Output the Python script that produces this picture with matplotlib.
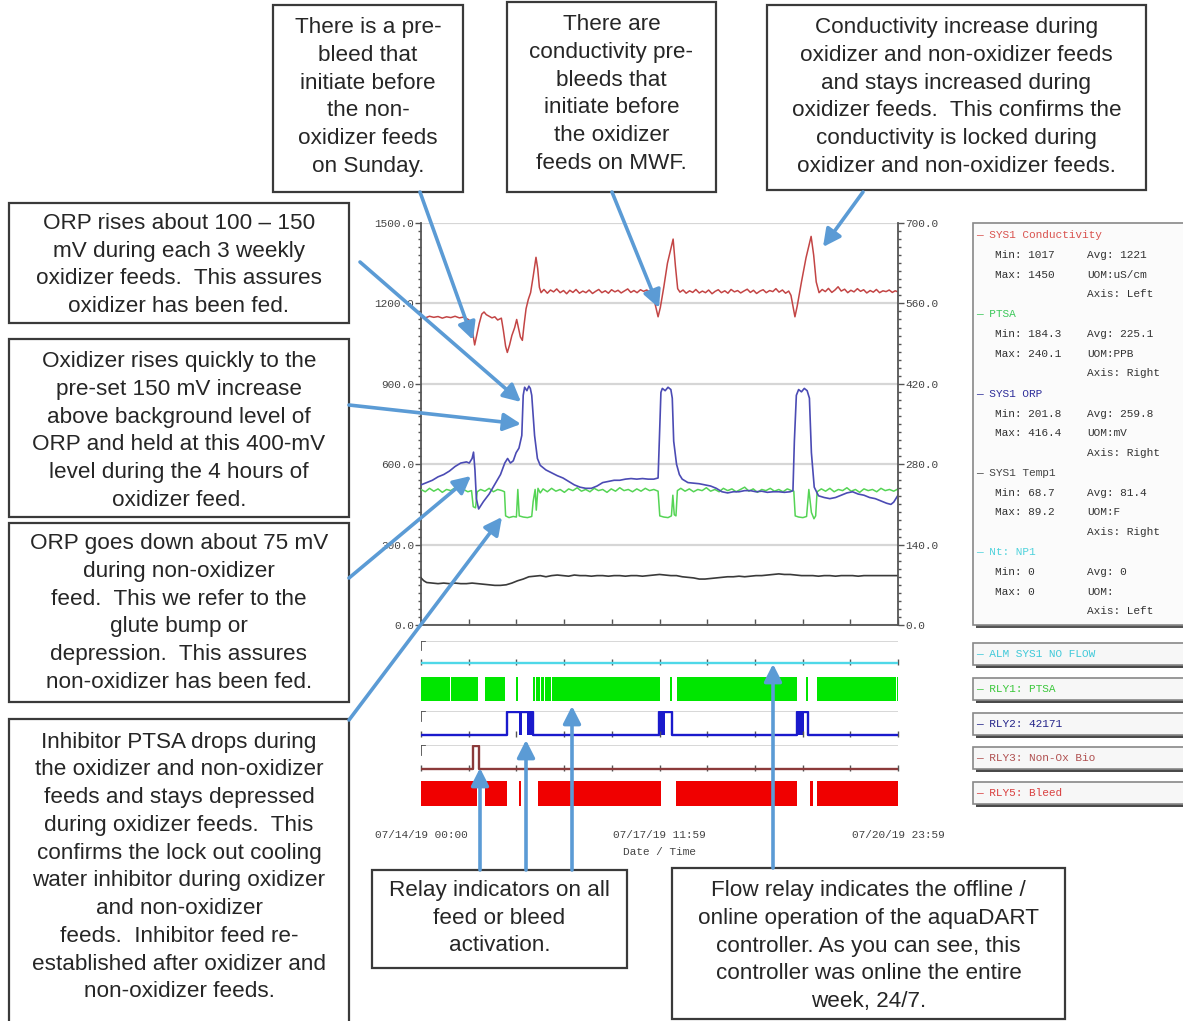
import numpy as np
import matplotlib
matplotlib.use("Agg")
import matplotlib.pyplot as plt
from matplotlib.patches import Rectangle
from matplotlib.ticker import MultipleLocator

plt.rcParams['font.family'] = ['Liberation Mono', 'DejaVu Sans Mono']

W, H = 1183, 1021
SPAN = 168.0  # hours from 07/14/19 00:00 to 07/20/19 23:59

# SYS1 Conductivity, left axis (uS/cm)
COND_H = [0, 1.5, 3, 4.5, 6, 7.5, 9, 10.5, 12, 13.5, 15, 16.5, 17.6, 18.9, 19.6, 20.5, 21.4, 22.2,
          23, 24, 25, 26, 27, 28.3, 29, 29.8, 30.4, 31.2, 32, 33, 33.7, 34.3, 35, 35.7, 36.3, 37,
          37.8, 38.6, 39.5, 40.5, 41.1, 41.7, 42.3, 43.3, 44.5, 45.6, 46.7, 47.8, 49, 50.2, 51.3,
          52.4, 53.5, 54.6, 55.8, 57, 58.1, 59.2, 60.4, 61.5, 62.6, 63.7, 64.9, 66, 67.1, 68.3,
          69.4, 70.5, 71.6, 72.8, 73.9, 75, 76.1, 77.3, 78.4, 79.5, 80.6, 81.5, 82.4, 83.5, 84.3,
          85.5, 86.8, 88.8, 89.6, 90.4, 91.2, 92.3, 93.4, 94.6, 95.7, 96.8, 98, 99.1, 100.2, 101.3,
          102.5, 103.6, 104.7, 105.8, 107, 108.1, 109.2, 110.4, 111.5, 112.6, 113.7, 114.9, 116,
          117.1, 118.2, 119.4, 120.5, 121.6, 122.8, 123.9, 125, 126.1, 127.3, 128.4, 129.5, 130.3,
          131, 131.7, 132.5, 134, 135.6, 137.4, 138.3, 139.2, 140.2, 141.3, 142.4, 143.5, 144.7,
          145.8, 146.9, 148, 149.2, 150.3, 151.4, 152.5, 153.7, 154.8, 155.9, 157, 158.2, 159.3,
          160.4, 161.5, 162.7, 163.8, 164.9, 166, 167, 168]
COND_V = [1150, 1146, 1152, 1148, 1151, 1145, 1150, 1147, 1152, 1146, 1149, 1141, 1132, 1045, 1080,
          1125, 1160, 1168, 1158, 1152, 1146, 1150, 1138, 1145, 1100, 1040, 1017, 1045, 1080, 1110,
          1140, 1110, 1075, 1062, 1120, 1180, 1215, 1240, 1300, 1372, 1330, 1260, 1240, 1252, 1238,
          1250, 1243, 1254, 1240, 1248, 1236, 1249, 1241, 1252, 1238, 1246, 1240, 1250, 1237, 1245,
          1252, 1240, 1247, 1238, 1251, 1243, 1249, 1239, 1246, 1254, 1241, 1248, 1240, 1251, 1245,
          1250, 1242, 1236, 1200, 1150, 1185, 1260, 1350, 1440, 1340, 1255, 1242, 1250, 1238, 1247,
          1241, 1252, 1239, 1246, 1240, 1250, 1236, 1245, 1251, 1240, 1247, 1238, 1252, 1243, 1248,
          1239, 1246, 1253, 1241, 1249, 1237, 1246, 1251, 1240, 1248, 1244, 1255, 1242, 1250, 1238,
          1246, 1230, 1190, 1150, 1190, 1280, 1370, 1450, 1380, 1280, 1240, 1252, 1244, 1256, 1241,
          1250, 1262, 1246, 1253, 1240, 1249, 1243, 1255, 1245, 1251, 1239, 1248, 1242, 1252, 1240,
          1247, 1244, 1250, 1241, 1247, 1243]

# SYS1 ORP, right axis (mV)
ORP_H = [0, 2, 4, 6, 8, 10, 12, 14, 16, 17, 18, 18.5, 19, 19.5, 20.3, 22, 24, 26, 28, 29.5, 30.5,
         31.5, 32.5, 33.5, 34.5, 35.5, 36, 36.5, 37.3, 38, 38.5, 39, 40, 41, 42, 44, 46, 48, 50, 52,
         54, 56, 58, 60, 62, 64, 66, 68, 70, 72, 74, 76, 78, 80, 82, 83.5, 84, 84.5, 85, 86, 87, 88,
         88.5, 89, 90, 91, 92, 94, 96, 98, 100, 102, 104, 106, 108, 110, 112, 114, 116, 118, 120,
         122, 124, 126, 128, 130, 131, 131.5, 132.2, 133, 134, 135, 136, 136.8, 137.5, 138.5, 140,
         142, 144, 146, 148, 150, 152, 154, 156, 158, 160, 162, 164, 165.5, 166.5, 168]
ORP_V = [244, 248, 252, 258, 262, 268, 276, 282, 284, 282, 290, 301, 270, 220, 202, 215, 228, 245,
         262, 282, 290, 282, 286, 300, 308, 330, 400, 414, 408, 416, 412, 400, 330, 290, 278, 270,
         265, 260, 256, 250, 244, 240, 238, 238, 242, 248, 250, 252, 252, 254, 255, 254, 255, 254,
         254, 256, 330, 405, 412, 408, 414, 410, 395, 320, 280, 262, 254, 248, 247, 246, 244, 242,
         238, 232, 230, 232, 232, 234, 234, 232, 233, 231, 232, 232, 231, 232, 234, 320, 400, 410,
         406, 412, 408, 395, 300, 240, 225, 222, 220, 222, 226, 230, 232, 228, 226, 222, 220, 216,
         212, 210, 214, 226]

# PTSA, right axis (ppb)
PTSA_H = [0, 1.5, 3, 4.5, 6, 7.5, 9, 10.5, 12, 13.5, 15, 16.5, 17.8, 18.4, 19.2, 19.8, 21, 22.5, 24,
          25.5, 27, 28.5, 29.4, 29.8, 31, 32.5, 33.6, 34.1, 34.6, 36, 37.5, 39, 39.5, 40.2, 40.6,
          41.2, 42, 43, 44.5, 46, 47.5, 49, 50.5, 52, 53.5, 55, 56.5, 58, 59.5, 61, 62.5, 64, 65.5,
          67, 68.5, 70, 71.5, 73, 74.5, 76, 77.5, 79, 80.5, 82, 83.5, 84.1, 85.5, 87, 88.2, 88.7,
          89.2, 89.8, 90.3, 91.5, 93, 94.5, 96, 97.5, 99, 100.5, 102, 103.5, 105, 106.5, 108, 109.5,
          111, 112.5, 114, 115.5, 117, 118.5, 120, 121.5, 123, 124.5, 126, 127.5, 129, 130.5, 131.3,
          131.8, 133, 134.5, 135.8, 136.6, 137.5, 138.4, 139, 139.5, 141, 142.5, 144, 145.5, 147,
          148.5, 150, 151.5, 153, 154.5, 156, 157.5, 159, 160.5, 162, 163.5, 165, 166.5, 168]
PTSA_V = [236, 232, 238, 233, 237, 231, 236, 234, 239, 233, 236, 232, 234, 206, 204, 232, 236, 233,
          238, 232, 236, 234, 232, 190, 187, 189, 188, 236, 190, 188, 187, 189, 215, 236, 200, 238,
          230, 237, 232, 238, 233, 236, 231, 237, 234, 239, 233, 236, 232, 238, 234, 236, 231, 237,
          233, 239, 234, 236, 232, 237, 233, 238, 234, 236, 233, 190, 188, 187, 190, 226, 192, 190,
          234, 238, 233, 237, 232, 236, 234, 239, 233, 236, 232, 238, 234, 237, 232, 236, 240, 233,
          237, 231, 236, 234, 238, 233, 236, 232, 237, 234, 233, 190, 188, 187, 189, 236, 196, 185,
          190, 232, 237, 233, 238, 232, 236, 234, 239, 233, 236, 231, 237, 234, 236, 232, 238, 234,
          236, 233, 237]

# SYS1 Temp1, right axis (F)
TEMP_H = [0, 1, 2, 4, 6, 8, 10, 12, 14, 16, 18, 20, 22, 24, 26, 28, 30, 32, 34, 36, 38, 40, 42, 44,
          46, 48, 50, 52, 54, 56, 58, 60, 62, 64, 66, 68, 70, 72, 74, 76, 78, 80, 82, 84, 86, 88, 90,
          92, 94, 96, 98, 100, 102, 104, 106, 108, 110, 112, 114, 116, 118, 120, 122, 124, 126, 128,
          130, 132, 134, 136, 138, 140, 142, 144, 146, 148, 150, 152, 154, 156, 158, 160, 162, 164,
          166, 168]
TEMP_V = [82, 77, 74, 73, 72, 73, 72, 73, 72, 72, 73, 72, 71, 70, 69, 69, 70, 73, 77, 80, 84, 85, 86,
          84, 86, 87, 86, 85, 87, 86, 86, 85, 86, 86, 85, 86, 86, 85, 86, 86, 85, 86, 87, 88, 87, 86,
          86, 84, 83, 82, 80, 80, 81, 82, 83, 84, 84, 85, 84, 85, 86, 86, 87, 88, 89, 88, 88, 87, 86,
          86, 86, 85, 86, 86, 85, 86, 86, 86, 85, 86, 86, 86, 86, 86, 86, 86]

# relay states as (on, off) hour pairs
ALM_ON = []
RLY1_OFF = [(10.1, 10.4), (20.1, 22.5), (29.6, 33.6), (34.2, 39.4), (40.2, 40.5), (41.8, 42.1),
            (43.4, 43.7), (45.7, 46.0), (75.9, 76.2), (84.2, 87.7), (88.3, 90.1), (132.4, 135.6),
            (136.3, 139.5), (167.2, 167.5)]
RLY2_ON = [(30.3, 39.4), (83.8, 88.4), (132.4, 136.3)]
RLY2_DENSE = [(34.5, 35.6), (37.3, 39.4), (83.8, 85.9), (132.4, 134.9)]
RLY3_ON = [(18.3, 20.3)]
RLY5_OFF = [(19.7, 22.5), (30.3, 34.6), (35.2, 41.2), (84.5, 89.8), (132.4, 137.0), (138.1, 139.5)]

DATE_LABELS = ['07/14/19 00:00', '07/17/19 11:59', '07/20/19 23:59']
COND_TICKS = [0, 300, 600, 900, 1200, 1500]
RIGHT_TICKS = [0, 140, 280, 420, 560, 700]

LEG_NAMES = ['SYS1 Conductivity', 'PTSA', 'SYS1 ORP', 'SYS1 Temp1', 'Nt: NP1']
LEG_MIN = ['1017', '184.3', '201.8', '68.7', '0']
LEG_MAX = ['1450', '240.1', '416.4', '89.2', '0']
LEG_AVG = ['1221', '225.1', '259.8', '81.4', '0']
LEG_UOM = ['uS/cm', 'PPB', 'mV', 'F', '']
LEG_AXIS = ['Left', 'Right', 'Right', 'Right', 'Left']
LEG_COLORS = ['#d9534f', '#3cc85a', '#2e2e9a', '#444444', '#4fd2dc']

RELAY_NAMES = ['ALM SYS1 NO FLOW', 'RLY1: PTSA', 'RLY2: 42171', 'RLY3: Non-Ox Bio', 'RLY5: Bleed']
RELAY_TEXT_COLORS = ['#3fc9d9', '#3cc83c', '#25258a', '#b05050', '#d94040']

C_COND = '#c34545'
C_PTSA = '#55d455'
C_ORP = '#4b4bb4'
C_TEMP = '#3a3a3a'
ARROW = '#5b9bd5'
TICKC = '#555555'


def px_rect(l, t, r, b):
    return [l / W, 1 - b / H, (r - l) / W, (b - t) / H]


def complement(gaps, lo, hi):
    out, cur = [], lo
    for s, e in gaps:
        out.append((cur, s))
        cur = e
    out.append((cur, hi))
    return out


def step_trace(intervals):
    xs, ys = [0.0], [0.0]
    for s, e in intervals:
        xs += [s, s, e, e]
        ys += [0, 1, 1, 0]
    xs.append(SPAN)
    ys.append(0)
    return xs, ys


fig = plt.figure(figsize=(W / 100, H / 100), dpi=100)
fig.patch.set_facecolor('white')

# ---- trend chart ----
ax = fig.add_axes(px_rect(421, 223, 898, 625))
ax.set_xlim(0, SPAN)
ax.set_ylim(0, 1500)
ax.set_yticks(COND_TICKS, [f'{v:.1f}' for v in COND_TICKS])
ax.yaxis.set_minor_locator(MultipleLocator(30))
ax.set_xticks(np.linspace(0, SPAN, 11))
ax.tick_params(axis='x', direction='in', length=4, width=1, color=TICKC, labelbottom=False)
ax.tick_params(axis='y', which='major', direction='out', length=4, width=1, color=TICKC,
               labelsize=8, labelcolor='#444', pad=1)
ax.tick_params(axis='y', which='minor', direction='out', length=2.5, width=1, color=TICKC)
ax.yaxis.grid(True, color='#d6d6d6', lw=1.6)
ax.set_axisbelow(True)
for side in ('left', 'bottom'):
    ax.spines[side].set_color(TICKC)
    ax.spines[side].set_linewidth(1.3)
ax.spines['top'].set_visible(False)
ax.spines['right'].set_visible(False)
ax.plot(COND_H, COND_V, color=C_COND, lw=1.1, zorder=3)

ax2 = ax.twinx()
ax2.set_ylim(0, 700)
ax2.set_yticks(RIGHT_TICKS, [f'{v:.1f}' for v in RIGHT_TICKS])
ax2.yaxis.set_minor_locator(MultipleLocator(14))
ax2.tick_params(axis='y', which='major', direction='out', length=4, width=1, color=TICKC,
                labelsize=8, labelcolor='#444', pad=1)
ax2.tick_params(axis='y', which='minor', direction='out', length=2.5, width=1, color=TICKC)
ax2.spines['right'].set_color(TICKC)
ax2.spines['right'].set_linewidth(1.3)
for side in ('top', 'left', 'bottom'):
    ax2.spines[side].set_visible(False)
ax2.plot(TEMP_H, TEMP_V, color=C_TEMP, lw=1.2)
ax2.plot(PTSA_H, PTSA_V, color=C_PTSA, lw=1.1)
ax2.plot(ORP_H, ORP_V, color=C_ORP, lw=1.2)

# ---- relay strips ----
strips = [
    (641, 665, 'line', '#4fd8e8', ALM_ON, []),
    (677, 701, 'fill', '#00e600', complement(RLY1_OFF, 0, SPAN), []),
    (711, 737, 'line', '#1a1acc', RLY2_ON, RLY2_DENSE),
    (745, 771, 'line', '#8b3a3a', RLY3_ON, []),
    (781, 806, 'fill', '#f00000', complement(RLY5_OFF, 0, SPAN), []),
]
strip_axes = []
for top, bot, kind, col, on, dense in strips:
    sa = fig.add_axes(px_rect(421, top, 898, bot))
    sa.set_xlim(0, SPAN)
    for sp in sa.spines.values():
        sp.set_visible(False)
    sa.set_yticks([])
    sa.set_xticks(np.linspace(0, SPAN, 11))
    if kind == 'fill':
        sa.set_ylim(0, 1)
        sa.broken_barh([(s, e - s) for s, e in on], (0, 1), facecolor=col, edgecolor='none')
        sa.tick_params(axis='x', length=0, labelbottom=False)
    else:
        sa.set_ylim(-0.1, 1.05)
        sa.plot([0, 1], [1, 1], transform=sa.transAxes, color='#d4d4d4', lw=1.3)
        sa.plot([0.008, 0, 0], [1, 1, 0.62], transform=sa.transAxes, color=TICKC, lw=1.3)
        sa.tick_params(axis='x', direction='in', length=4, width=1, color=TICKC, labelbottom=False)
        if dense:
            sa.broken_barh([(s, e - s) for s, e in dense], (0, 1), facecolor=col, edgecolor='none')
        xs, ys = step_trace(on)
        sa.plot(xs, ys, color=col, lw=1.7)
    strip_axes.append(sa)

bottom = strip_axes[-1]
bottom.set_xticks([0, SPAN / 2, SPAN], DATE_LABELS)
bottom.tick_params(axis='x', length=0, labelbottom=True, labelsize=8, labelcolor='#444', pad=17)
bottom.set_xlabel('Date / Time', fontsize=8, color='#444', labelpad=5)

# ---- overlay: legend panels, note boxes, arrows ----
ov = fig.add_axes([0, 0, 1, 1], zorder=10)
ov.set_xlim(0, W)
ov.set_ylim(H, 0)
ov.axis('off')
ov.patch.set_alpha(0)

ov.add_patch(Rectangle((976, 226), 220, 402, facecolor='#555555', edgecolor='none'))
ov.add_patch(Rectangle((973, 223), 220, 402, facecolor='#fbfbfb', edgecolor='#888888', lw=1.2))
for i, name in enumerate(LEG_NAMES):
    y0 = 235 + i * 79.3
    ov.text(976, y0, '\u2014 ' + name, color=LEG_COLORS[i], fontsize=8, va='center')
    ov.text(995, y0 + 20, f'Min: {LEG_MIN[i]}', color='#333', fontsize=8, va='center')
    ov.text(995, y0 + 39.5, f'Max: {LEG_MAX[i]}', color='#333', fontsize=8, va='center')
    ov.text(1087, y0 + 20, f'Avg: {LEG_AVG[i]}', color='#333', fontsize=8, va='center')
    ov.text(1087, y0 + 39.5, f'UOM:{LEG_UOM[i]}', color='#333', fontsize=8, va='center')
    ov.text(1087, y0 + 59, f'Axis: {LEG_AXIS[i]}', color='#333', fontsize=8, va='center')

for i, name in enumerate(RELAY_NAMES):
    t = 643 + i * 34.8
    ov.add_patch(Rectangle((976, t + 3), 220, 22, facecolor='#4a4a4a', edgecolor='none'))
    ov.add_patch(Rectangle((973, t), 220, 22, facecolor='#f7f7f7', edgecolor='#888888', lw=1.2))
    ov.text(976, t + 11, '\u2014 ' + name, color=RELAY_TEXT_COLORS[i], fontsize=8, va='center')

notes = [
    ((273, 5, 463, 192), 97, 'There is a pre-\nbleed that\ninitiate before\nthe non-\noxidizer feeds\non Sunday.'),
    ((507, 2, 716, 192), 94, 'There are\nconductivity pre-\nbleeds that\ninitiate before\nthe oxidizer\nfeeds on MWF.'),
    ((767, 5, 1146, 190), 97, 'Conductivity increase during\noxidizer and non-oxidizer feeds\n'
     'and stays increased during\noxidizer feeds.  This confirms the\n'
     'conductivity is locked during\noxidizer and non-oxidizer feeds.'),
    ((9, 203, 349, 323), 265, 'ORP rises about 100 \u2013 150\nmV during each 3 weekly\n'
     'oxidizer feeds.  This assures\noxidizer has been fed.'),
    ((9, 339, 349, 517), 431, 'Oxidizer rises quickly to the\npre-set 150 mV increase\n'
     'above background level of\nORP and held at this 400-mV\nlevel during the 4 hours of\noxidizer feed.'),
    ((9, 523, 349, 702), 613, 'ORP goes down about 75 mV\nduring non-oxidizer\n'
     'feed.  This we refer to the\nglute bump or\ndepression.  This assures\nnon-oxidizer has been fed.'),
    ((9, 719, 349, 1026), 867, 'Inhibitor PTSA drops during\nthe oxidizer and non-oxidizer\n'
     'feeds and stays depressed\nduring oxidizer feeds.  This\nconfirms the lock out cooling\n'
     'water inhibitor during oxidizer\nand non-oxidizer\nfeeds.  Inhibitor feed re-\n'
     'established after oxidizer and\nnon-oxidizer feeds.'),
    ((372, 870, 627, 968), 918, 'Relay indicators on all\nfeed or bleed\nactivation.'),
    ((672, 868, 1065, 1019), 946, 'Flow relay indicates the offline /\nonline operation of the aquaDART\n'
     'controller. As you can see, this\ncontroller was online the entire\nweek, 24/7.'),
]
for (l, t, r, b), yc, txt in notes:
    ov.add_patch(Rectangle((l, t), r - l, b - t, facecolor='white', edgecolor='#3a3a3a', lw=1.6))
    ov.text((l + r) / 2, yc, txt, ha='center', va='center', fontsize=16.2, color='#262626',
            family='Liberation Sans', linespacing=1.42)

arrows = [
    ((420, 192), (473, 340)),
    ((612, 192), (659, 308)),
    ((863, 192), (823, 247)),
    ((360, 262), (521, 402)),
    ((349, 405), (521, 424)),
    ((349, 578), (471, 476)),
    ((349, 720), (502, 517)),
    ((480, 870), (480, 768)),
    ((526, 870), (526, 740)),
    ((572, 870), (572, 706)),
    ((773, 868), (773, 664)),
]
for start, tip in arrows:
    ov.annotate('', xy=tip, xytext=start,
                arrowprops=dict(arrowstyle='-|>,head_length=0.75,head_width=0.38', color=ARROW,
                                lw=2.6, shrinkA=0, shrinkB=0, mutation_scale=14))

fig.savefig('out.png', dpi=100)
